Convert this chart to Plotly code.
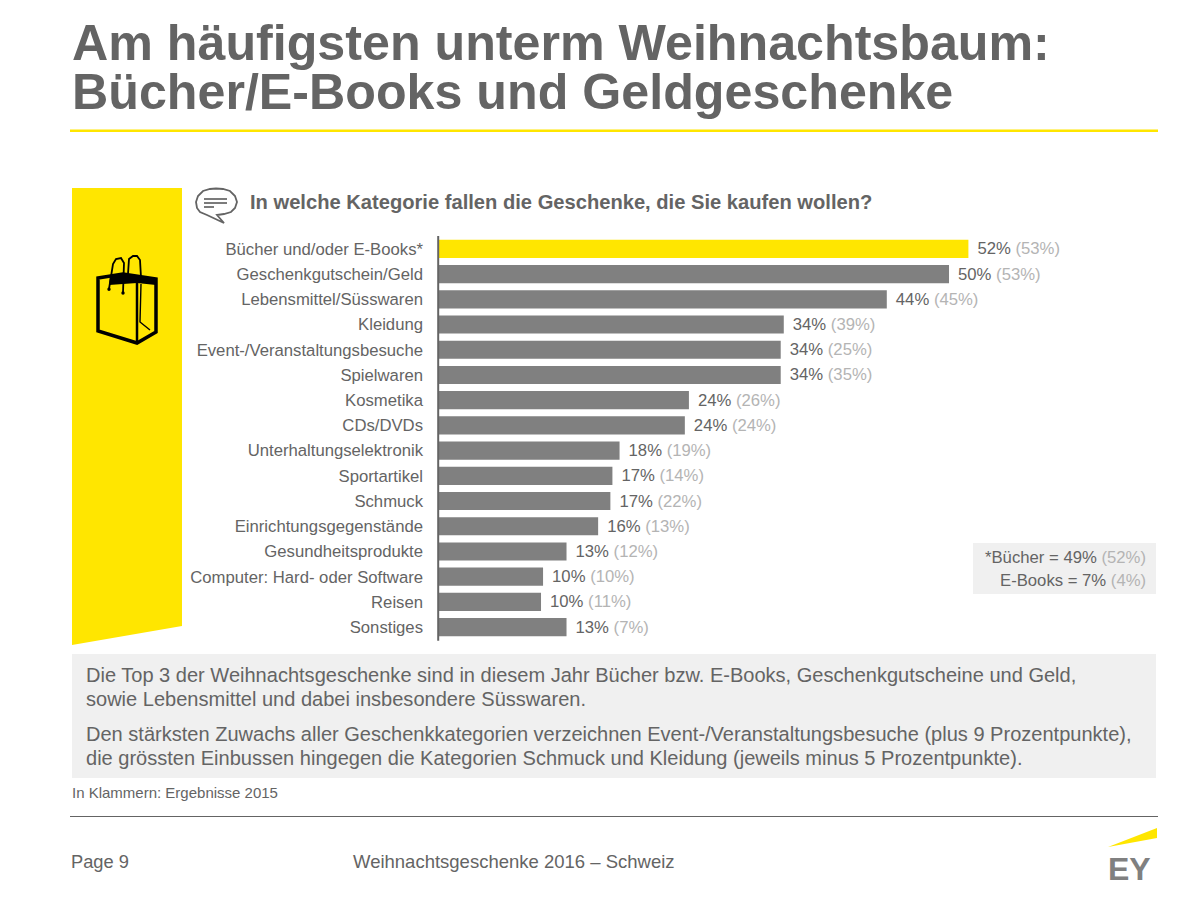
import plotly.graph_objects as go

W, H = 1202, 902
categories = ["Bücher und/oder E-Books*", "Geschenkgutschein/Geld", "Lebensmittel/Süsswaren", "Kleidung",
              "Event-/Veranstaltungsbesuche", "Spielwaren", "Kosmetika", "CDs/DVDs", "Unterhaltungselektronik",
              "Sportartikel", "Schmuck", "Einrichtungsgegenstände", "Gesundheitsprodukte",
              "Computer: Hard- oder Software", "Reisen", "Sonstiges"]
values_2016 = [52.0, 50.1, 44.0, 33.9, 33.6, 33.6, 24.6, 24.2, 17.8, 17.1, 16.9, 15.7, 12.6, 10.3, 10.1, 12.6]
labels_2016 = [52, 50, 44, 34, 34, 34, 24, 24, 18, 17, 17, 16, 13, 10, 10, 13]
labels_2015 = [53, 53, 45, 39, 25, 35, 26, 24, 19, 14, 22, 13, 12, 10, 11, 7]

GREY = "#646464"
YEL = "#FFE600"
LG = "#b4b4b4"
FONT = "Liberation Sans"

def px(x): return x / W
def py(y): return 1 - y / H
def path(points, close=True):
    s = "M" + " L".join(f"{px(x):.5f},{py(y):.5f}" for x, y in points)
    return s + (" Z" if close else "")

def shape_path(points, fill=None, line=None, lw=0, close=True):
    return dict(type="path", xref="paper", yref="paper", path=path(points, close),
                fillcolor=fill if fill else "rgba(0,0,0,0)",
                line=dict(color=line if line else "rgba(0,0,0,0)", width=lw), layer="above")

def rect(x0, y0, x1, y1, fill):
    return dict(type="rect", xref="paper", yref="paper", x0=px(x0), x1=px(x1), y0=py(y1), y1=py(y0),
                fillcolor=fill, line=dict(width=0), layer="below")

def hline(x0, x1, y, color, w):
    return dict(type="line", xref="paper", yref="paper", x0=px(x0), x1=px(x1), y0=py(y), y1=py(y),
                line=dict(color=color, width=w), layer="above")

def txt(x, y, s, size=16, color=GREY, anchor="left", bold=False, family=FONT):
    return dict(xref="paper", yref="paper", x=px(x), y=py(y), text=f"<b>{s}</b>" if bold else s,
                showarrow=False, xanchor=anchor, yanchor="middle", align=anchor,
                font=dict(family=family, size=size, color=color), borderpad=0)

bar_text = [f"\u00a0\u200a{a}% <span style='color:{LG}'>({b}%)</span>" for a, b in zip(labels_2016, labels_2015)]
colors = [YEL] + ["#808080"] * (len(categories) - 1)

fig = go.Figure(go.Bar(y=categories, x=values_2016, orientation="h", marker=dict(color=colors, line=dict(width=0)),
                       text=bar_text, textposition="outside", cliponaxis=False, constraintext="none",
                       textfont=dict(family=FONT, size=16.7, color=GREY), hoverinfo="skip"))

shapes = [
    hline(70, 1158, 130.7, YEL, 2.6),
    shape_path([(72, 188), (182, 188), (182, 626), (72, 645)], fill=YEL),
    rect(72, 654, 1156, 778, "#F0F0F0"),
    rect(973, 543, 1156, 594, "#F0F0F0"),
    hline(70, 1158, 816.5, GREY, 1),
    # axis rule
    dict(type="line", xref="paper", yref="paper", x0=px(438.2), x1=px(438.2), y0=py(236), y1=py(640.7),
         line=dict(color=GREY, width=2), layer="above"),
    # bag icon
    shape_path([(98, 278), (123, 274), (156, 279), (156, 332), (137, 343), (98, 331)], line="black", lw=3.5),
    shape_path([(110, 276), (123, 273), (156, 279), (156, 285), (137, 283), (109, 285)], fill="black"),
    shape_path([(137, 282), (137, 343)], line="black", lw=2.5, close=False),
    shape_path([(141, 284), (140, 322), (150, 330)], line="black", lw=1.4, close=False),
    shape_path([(109, 289), (113, 264), (116, 259), (121, 258), (124, 263), (123, 293)], line="black", lw=1.8, close=False),
    shape_path([(128, 274), (129, 259), (133, 256), (137, 256), (140, 260), (141, 277)], line="black", lw=1.8, close=False),
    dict(type="circle", xref="paper", yref="paper", x0=px(107.3), x1=px(110.7), y0=py(291), y1=py(287.6),
         fillcolor="black", line=dict(width=0), layer="above"),
    dict(type="circle", xref="paper", yref="paper", x0=px(121.3), x1=px(124.7), y0=py(294.7), y1=py(291.3),
         fillcolor="black", line=dict(width=0), layer="above"),
    # speech bubble
    shape_path([(207, 215), (200, 212), (197, 208), (196, 202), (198, 196), (203, 191), (210, 189), (216, 188.5),
                (223, 189), (230, 191), (235, 196), (237, 202), (235, 208), (231, 212), (224, 214), (217, 215),
                (224, 223)], line=GREY, lw=1.8),
    shape_path([(204, 199), (227, 199)], line=GREY, lw=1.7, close=False),
    shape_path([(204, 203), (227, 203)], line=GREY, lw=1.7, close=False),
    shape_path([(204, 207), (214, 207)], line=GREY, lw=1.7, close=False),
    # logo beam
    shape_path([(1108, 847), (1157, 828), (1157, 838)], fill=YEL),
]

annotations = [
    txt(71, 42.7, "Am häufigsten unterm Weihnachtsbaum:", 50.2, GREY, bold=True),
    txt(71, 92, "Bücher/E-Books und Geldgeschenke", 50.2, GREY, bold=True),
    txt(249, 202, "In welche Kategorie fallen die Geschenke, die Sie kaufen wollen?", 20.15, GREY, bold=True),
    txt(1147, 557, f"*Bücher = 49% <span style='color:{LG}'>(52%)</span>", 16.7, GREY, "right"),
    txt(1147, 580, f"E-Books = 7% <span style='color:{LG}'>(4%)</span>", 16.7, GREY, "right"),
    txt(84.5, 675, "Die Top 3 der Weihnachtsgeschenke sind in diesem Jahr Bücher bzw. E-Books, Geschenkgutscheine und Geld,", 20.05),
    txt(84.5, 699, "sowie Lebensmittel und dabei insbesondere Süsswaren.", 20.05),
    txt(84.5, 734, "Den stärksten Zuwachs aller Geschenkkategorien verzeichnen Event-/Veranstaltungsbesuche (plus 9 Prozentpunkte),", 20.05),
    txt(84.5, 758, "die grössten Einbussen hingegen die Kategorien Schmuck und Kleidung (jeweils minus 5 Prozentpunkte).", 20.05),
    txt(70.8, 792, "In Klammern: Ergebnisse 2015", 15),
    txt(70, 861.3, "Page 9", 18.3),
    txt(352, 861.3, "Weihnachtsgeschenke 2016 – Schweiz", 18.5),
    txt(1107, 869, "EY", 32, "#808080", bold=True),
]

fig.update_layout(
    width=W, height=H, margin=dict(l=0, r=0, t=0, b=0), paper_bgcolor="white", plot_bgcolor="white",
    showlegend=False, bargap=0.28, shapes=shapes, annotations=annotations,
    xaxis=dict(domain=[px(438), px(1152)], range=[0, 70], visible=False, fixedrange=True),
    yaxis=dict(domain=[py(639.7), py(236.3)], autorange="reversed", type="category", anchor="x", position=0,
               showline=False, showgrid=False, ticks="", ticklabelstandoff=14,
               tickfont=dict(family=FONT, size=16.7, color=GREY), fixedrange=True),
    font=dict(family=FONT),
)
fig.write_html("out.html", config={"displayModeBar": False},
               post_script="document.body.style.margin='0';")
